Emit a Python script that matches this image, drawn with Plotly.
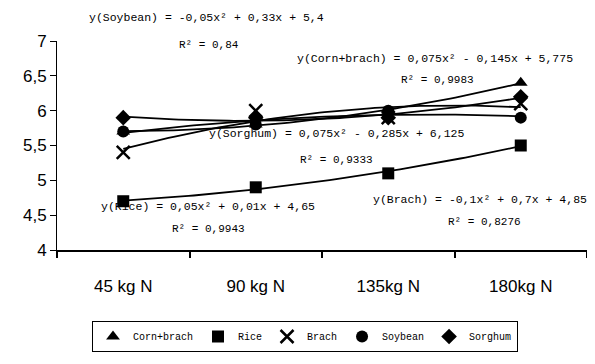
import numpy as np
import plotly.graph_objects as go

categories = ["45 kg N", "90 kg N", "135kg N", "180kg N"]
corn_brach = [5.7, 5.8, 6.0, 6.4]
rice = [4.7, 4.9, 5.1, 5.5]
brach = [5.4, 6.0, 5.9, 6.1]
soybean = [5.7, 5.8, 6.0, 5.9]
sorghum = [5.9, 5.9, 5.9, 6.2]

series = [
    ("Corn+brach", corn_brach, "triangle-up"),
    ("Rice", rice, "square"),
    ("Brach", brach, "x-thin-open"),
    ("Soybean", soybean, "circle"),
    ("Sorghum", sorghum, "diamond"),
]

fig = go.Figure()
xi = np.arange(1, len(categories) + 1)
xs = np.linspace(1, len(categories), 80)
# polynomial (order 2) trend lines
for name, vals, sym in series:
    c = np.polyfit(xi, vals, 2)
    fig.add_trace(go.Scatter(x=xs, y=np.polyval(c, xs), mode="lines",
                             line=dict(color="black", width=1.8),
                             xaxis="x2", showlegend=False, hoverinfo="skip"))
for name, vals, sym in series:
    mk = dict(symbol=sym, size=12, color="black")
    if sym.startswith("x"):
        mk.update(size=13, line=dict(color="black", width=2.5))
    fig.add_trace(go.Scatter(x=categories, y=vals, mode="markers", name=name,
                             marker=mk))

# page is rendered with an 8px body margin: work in page pixels, subtract offset
OFF = 8
W, H = 595 - OFF, 364 - OFF
PL, PR, PT, PB = 57, 587, 41, 250  # plot area in page pixels
L, T = PL - OFF, PT - OFF
R, B = W - (PR - OFF), H - (PB - OFF)
pw, ph = PR - PL, PB - PT

mono = "Liberation Mono, Courier New, monospace"
ann = [
    (206, 18, "y(Soybean) = -0,05x² + 0,33x + 5,4"),
    (209, 45, "R² = 0,84"),
    (435, 58, "y(Corn+brach) = 0,075x² - 0,145x + 5,775"),
    (437, 80, "R² = 0,9983"),
    (336, 133, "y(Sorghum) = 0,075x² - 0,285x + 6,125"),
    (336, 160, "R² = 0,9333"),
    (208, 206, "y(Rice) = 0,05x² + 0,01x + 4,65"),
    (208, 229, "R² = 0,9943"),
    (480, 199, "y(Brach) = -0,1x² + 0,7x + 4,85"),
    (484, 222, "R² = 0,8276"),
]
annotations = []
for px, py, t in ann:
    size = 11.5 if t.startswith("y(") else 11
    annotations.append(dict(x=(px - PL) / pw, y=1 - (py - PT) / ph, xref="paper", yref="paper",
                            text=t, showarrow=False, xanchor="center", yanchor="middle",
                            font=dict(family=mono, size=size, color="black")))

fig.update_layout(
    template="none",
    width=W, height=H, margin=dict(l=L, r=R, t=T, b=B, autoexpand=False),
    paper_bgcolor="white", plot_bgcolor="white",
    separators=",.",
    font=dict(family="Arial, Liberation Sans, sans-serif", color="black"),
    xaxis=dict(type="category", tickson="boundaries", ticks="outside", ticklen=6,
               tickwidth=2, tickcolor="black", showline=True, linecolor="black", linewidth=2,
               showgrid=False, tickfont=dict(size=17), ticklabelstandoff=20,
               range=[-0.5, 3.5], automargin=False),
    xaxis2=dict(overlaying="x", range=[0.5, 4.5], visible=False),
    yaxis=dict(range=[4, 7], dtick=0.5, ticks="outside", ticklen=6, tickcolor="black",
               showline=True, linecolor="black", linewidth=1, showgrid=False,
               zeroline=False, tickfont=dict(size=17), automargin=False),
    legend=dict(orientation="h", x=(305 - PL) / pw, xanchor="center",
                y=1 - (321 - PT) / ph, yanchor="top", bordercolor="black", borderwidth=1,
                font=dict(family=mono, size=10), itemwidth=30, tracegroupgap=0),
    annotations=annotations,
)
fig.write_html("out.html")
